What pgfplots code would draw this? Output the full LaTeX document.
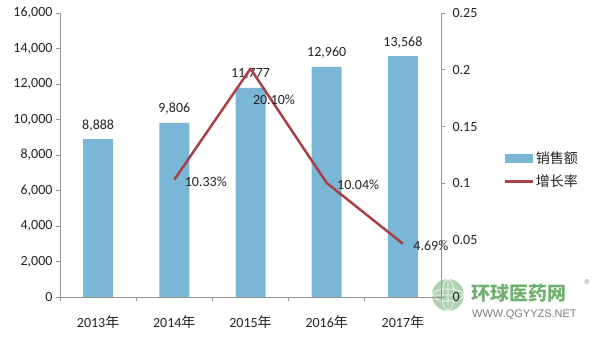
\documentclass[border=0pt]{standalone}
\usepackage{pgfplots}
\pgfplotsset{compat=1.18}
\usepackage{fontspec}
\setmainfont{Carlito}
\newfontfamily\cjk{Noto Sans CJK SC}
\newfontfamily\wmfont{Liberation Sans}
\definecolor{barblue}{RGB}{122,182,214}
\definecolor{linered}{RGB}{168,64,72}
\definecolor{axisgray}{RGB}{150,150,150}
\definecolor{txt}{RGB}{35,35,35}
\definecolor{logogreen}{RGB}{112,176,112}
\definecolor{logogray}{RGB}{125,125,125}
\newcommand{\lf}{\fontsize{14}{16}\selectfont}
\begin{document}
\begin{tikzpicture}[x=1pt,y=1pt]
\useasboundingbox (-60,-41) rectangle (544,297);
% logo bottom right
\fill[logogreen!70, opacity=0.8] (388,2) circle (16);
\draw[white, line width=0.8pt, opacity=0.8] (388,2) ellipse (6 and 16) (388,2) ellipse (16 and 6) (372,2)--(404,2) (388,-14)--(388,18);
\node[anchor=west, inner sep=0, text=logogreen, font=\cjk\bfseries\fontsize{19}{20}\selectfont] at (411,4) {环球医药网};
\node[anchor=center, inner sep=0, text=logogray, font=\wmfont\fontsize{7}{8}\selectfont] at (527,15) {®};
\node[anchor=west, inner sep=0, text=logogray, font=\wmfont\fontsize{11}{12}\selectfont] at (412,-18) {WWW.QGYYZS.NET};

\begin{axis}[
  at={(0,0)}, anchor=south west,
  scale only axis, width=381pt, height=284pt,
  xmin=-0.5, xmax=4.5, ymin=0, ymax=16000,
  axis x line*=bottom, axis y line*=left,
  axis line style={axisgray, line width=0.8pt},
  xtick={0,1,2,3,4},
  xticklabels={{2013{\cjk 年}},{2014{\cjk 年}},{2015{\cjk 年}},{2016{\cjk 年}},{2017{\cjk 年}}},
  major x tick style={draw=none},
  minor xtick={-0.5,0.5,1.5,2.5,3.5,4.5},
  tick align=outside, major tick length=4pt, minor tick length=4pt,
  every tick/.style={axisgray, line width=0.8pt},
  ytick={0,2000,4000,6000,8000,10000,12000,14000,16000},
  scaled y ticks=false,
  /pgf/number format/1000 sep={,},
  /pgf/number format/assume math mode=true,
  ticklabel style={font=\lf, text=txt},
  xticklabel style={yshift=-11pt},
  ybar, bar width=30pt,
  nodes near coords,
  nodes near coords style={font=\lf, text=txt, anchor=center, yshift=14pt},
  legend style={at={(1.155,0.447)}, anchor=west, draw=none, fill=none,
     font=\cjk\lf, text=txt, row sep=6pt, cells={anchor=west},
     /tikz/every even column/.append style={column sep=2pt}},
  clip=false,
]
\addplot[fill=barblue, draw=none,
  legend image code/.code={\fill[barblue] (0pt,-4.5pt) rectangle (28pt,4.5pt);}]
  coordinates {(0,8888) (1,9806) (2,11777) (3,12960) (4,13568)};
\addlegendentry{销售额}
\addlegendimage{legend image code/.code={\draw[linered, line width=2.5pt] (0pt,0pt)--(28pt,0pt);}}
\addlegendentry{增长率}
\end{axis}

\begin{axis}[
  at={(0,0)}, anchor=south west,
  scale only axis, width=381pt, height=284pt,
  xmin=-0.5, xmax=4.5, ymin=0, ymax=0.25,
  axis x line=none, axis y line*=right,
  axis line style={axisgray, line width=0.8pt},
  ytick={0,0.05,0.1,0.15,0.2,0.25},
  yticklabels={0,0.05,0.1,0.15,0.2,0.25},
  tick align=outside, major tick length=4pt,
  every tick/.style={axisgray, line width=0.8pt},
  ticklabel style={font=\lf, text=txt},
  yticklabel style={xshift=4pt},
  clip=false,
]
\addplot[linered, line width=2.5pt, line join=round, mark=none]
  coordinates {(1,0.1033) (2,0.2010) (3,0.1004) (4,0.0469)};
\addplot[draw=none, mark=none, nodes near coords, point meta=explicit symbolic,
  nodes near coords style={font=\lf, text=txt, anchor=west, xshift=7pt, yshift=-2pt}]
  coordinates {(1,0.1033)[10.33\%] (3,0.1004)[10.04\%] (4,0.0469)[4.69\%]};
\addplot[draw=none, mark=none, nodes near coords, point meta=explicit symbolic,
  nodes near coords style={font=\lf, text=txt, anchor=west, xshift=-1pt, yshift=-31pt}]
  coordinates {(2,0.2010)[20.10\%]};
\end{axis}
\end{tikzpicture}
\end{document}
